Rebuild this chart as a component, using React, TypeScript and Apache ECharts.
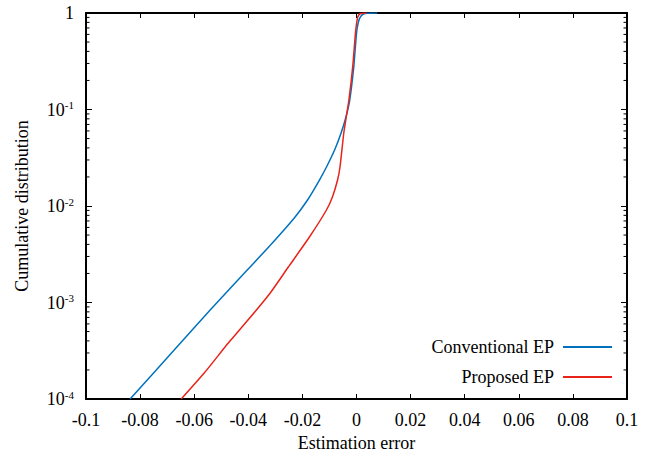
import React, { useEffect, useRef } from 'react';
import * as echarts from 'echarts';

const seriesNames = ['Conventional EP', 'Proposed EP'];
const seriesColors = ['#0072bd', '#e8231a'];

const conventionalX = [-0.0837, -0.0674, -0.0541, -0.0404, -0.0311, -0.023, -0.0181, -0.0137, -0.0111, -0.0081, -0.0057, -0.0039, -0.0025, -0.001, 0.0, 0.0007, 0.0015, 0.0026, 0.004, 0.0077];
const conventionalY = [1.0e-4, 3.22e-4, 8.36e-4, 2.17e-3, 4.14e-3, 7.51e-3, 0.01154, 0.01858, 0.02535, 0.038, 0.0571, 0.0836, 0.1254, 0.2777, 0.616, 0.807, 0.916, 0.976, 0.995, 1.0];

const proposedX = [-0.0648, -0.0563, -0.0474, -0.037, -0.0319, -0.0252, -0.0174, -0.0111, -0.0089, -0.007, -0.0061, -0.0047, -0.0038, -0.0028, -0.0014, -0.0004, 0.0001, 0.0005, 0.0015, 0.0037];
const proposedY = [1.0e-4, 1.858e-4, 3.8e-4, 8.36e-4, 1.254e-3, 2.33e-3, 4.77e-3, 9.09e-3, 0.0124, 0.01858, 0.02535, 0.0571, 0.0836, 0.1254, 0.2777, 0.616, 0.807, 0.916, 0.988, 1.0];

const xMin = -0.1;
const xMax = 0.1;
const xInterval = 0.02;
const yMin = 1e-4;
const yMax = 1;
const decades = [1e-4, 1e-3, 1e-2, 1e-1];
const minorMultipliers = [2, 3, 4, 5, 6, 7, 8, 9];

const FONT = 'Liberation Serif';

export default function App() {
  const ref = useRef<HTMLDivElement>(null);

  useEffect(() => {
    if (!ref.current) return;
    const chart = echarts.init(ref.current, undefined, { renderer: 'svg' });

    const minorData: number[][] = [];
    decades.forEach((d) => minorMultipliers.forEach((m) => minorData.push([xMin, m * d])));

    const axisLine = { show: true, lineStyle: { color: '#000', width: 2 } };
    const xFmt = (v: number) => {
      const r = Math.round(v * 100) / 100;
      return r === 0 ? '0' : String(r);
    };
    const yFmt = (v: number) => {
      const e = Math.round(Math.log10(v));
      return e === 0 ? '{b|1}' : '{b|10}{s|' + e + '}';
    };

    chart.setOption({
      animation: false,
      textStyle: { fontFamily: FONT },
      grid: { left: 86, right: 24, top: 13, bottom: 55, outerBoundsMode: 'none' },
      legend: {
        data: seriesNames,
        orient: 'vertical',
        right: 34,
        top: 332,
        align: 'right',
        icon: 'rect',
        itemWidth: 49,
        itemHeight: 2,
        itemGap: 10,
        textStyle: { fontFamily: FONT, fontSize: 18, color: '#000', lineHeight: 20, padding: [0, 4, 0, 0] },
      },
      xAxis: [
        {
          type: 'value',
          min: xMin,
          max: xMax,
          interval: xInterval,
          position: 'bottom',
          axisLine: { ...axisLine, onZero: false },
          axisTick: { show: true, inside: true, length: 5, lineStyle: { color: '#000', width: 1 } },
          axisLabel: { formatter: xFmt, color: '#000', fontSize: 18, fontFamily: FONT, margin: 12 },
          splitLine: { show: false },
          name: 'Estimation error',
          nameLocation: 'middle',
          nameGap: 34,
          nameTextStyle: { fontSize: 18, color: '#000', fontFamily: FONT },
        },
        {
          type: 'value',
          min: xMin,
          max: xMax,
          interval: xInterval,
          position: 'top',
          axisLine: { ...axisLine, onZero: false },
          axisTick: { show: true, inside: true, length: 5, lineStyle: { color: '#000', width: 1 } },
          axisLabel: { show: false },
          splitLine: { show: false },
        },
      ],
      yAxis: [
        {
          type: 'log',
          logBase: 10,
          min: yMin,
          max: yMax,
          splitNumber: 4,
          position: 'left',
          axisLine: { ...axisLine, onZero: false },
          axisTick: { show: true, inside: true, length: 6, lineStyle: { color: '#000', width: 1 } },
          axisLabel: {
            formatter: yFmt,
            color: '#000',
            margin: 12,
            fontFamily: FONT,
            rich: {
              b: { fontSize: 18, fontFamily: FONT, color: '#000', lineHeight: 20 },
              s: { fontSize: 11, fontFamily: FONT, color: '#000', verticalAlign: 'top', lineHeight: 10 },
            },
          },
          splitLine: { show: false },
          name: 'Cumulative distribution',
          nameLocation: 'middle',
          nameGap: 55,
          nameTextStyle: { fontSize: 18, color: '#000', fontFamily: FONT },
        },
        {
          type: 'log',
          logBase: 10,
          min: yMin,
          max: yMax,
          splitNumber: 4,
          position: 'right',
          axisLine: { ...axisLine, onZero: false },
          axisTick: { show: true, inside: true, length: 6, lineStyle: { color: '#000', width: 1 } },
          axisLabel: { show: false },
          splitLine: { show: false },
        },
      ],
      series: [
        {
          name: seriesNames[0],
          type: 'line',
          xAxisIndex: 0,
          yAxisIndex: 0,
          symbol: 'none',
          smooth: 0.2,
          lineStyle: { color: seriesColors[0], width: 1.5 },
          itemStyle: { color: seriesColors[0] },
          data: conventionalX.map((x, i) => [x, conventionalY[i]]),
        },
        {
          name: seriesNames[1],
          type: 'line',
          xAxisIndex: 0,
          yAxisIndex: 0,
          symbol: 'none',
          smooth: 0.2,
          lineStyle: { color: seriesColors[1], width: 1.5 },
          itemStyle: { color: seriesColors[1] },
          data: proposedX.map((x, i) => [x, proposedY[i]]),
        },
        {
          name: 'minorTicks',
          type: 'custom',
          xAxisIndex: 0,
          yAxisIndex: 0,
          silent: true,
          clip: false,
          encode: { x: 0, y: 1 },
          data: minorData,
          renderItem: (params: any, api: any) => {
            const p = api.coord([api.value(0), api.value(1)]);
            const cs = params.coordSys;
            const l = cs.x;
            const r = cs.x + cs.width;
            const st = { stroke: '#000', lineWidth: 1 };
            return {
              type: 'group',
              children: [
                { type: 'line', shape: { x1: l, y1: p[1], x2: l + 3.5, y2: p[1] }, style: st },
                { type: 'line', shape: { x1: r - 3.5, y1: p[1], x2: r, y2: p[1] }, style: st },
              ],
            };
          },
        },
      ],
    });

    return () => chart.dispose();
  }, []);

  return <div ref={ref} style={{ width: 651, height: 454, position: 'absolute', left: 0, top: 0, background: '#fff' }} />;
}
